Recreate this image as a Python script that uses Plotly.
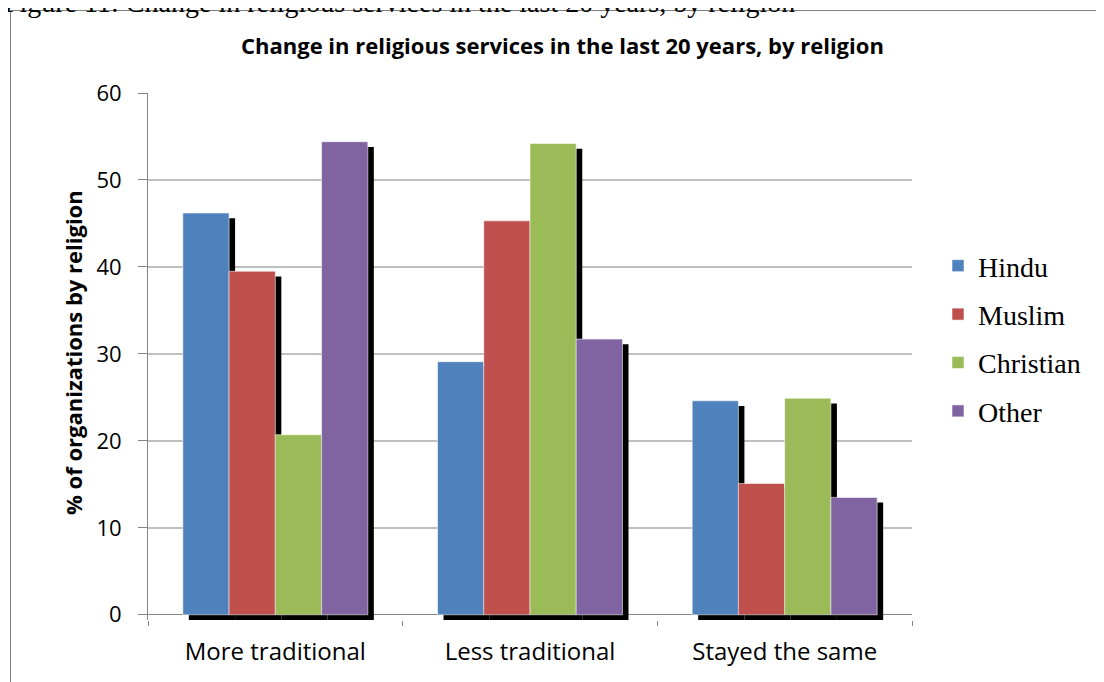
import plotly.graph_objects as go

categories = ["More traditional", "Less traditional", "Stayed the same"]
series_names = ["Hindu", "Muslim", "Christian", "Other"]
hindu = [46.2, 29.1, 24.6]
muslim = [39.5, 45.3, 15.1]
christian = [20.7, 54.2, 24.9]
other = [54.4, 31.7, 13.5]
y_ticks = [0, 10, 20, 30, 40, 50, 60]

values = [hindu, muslim, christian, other]
colors = ["#4F81BD", "#C0504D", "#9BBB59", "#8064A2"]

# page has an 8px body margin; the figure is laid out in page pixels
OFF = 8
W, H = 1104 - OFF, 682 - OFF
L, R, T, B = 148 - OFF, 192, 93 - OFF, 62
plot_w = W - L - R
plot_h = H - T - B
cat_px = plot_w / 3.0
BAR_W = 0.1816
SH_DX = 6 / cat_px
Y_MIN = -0.6
SH_DY = 0.6

def px_x(px):
    return (px - OFF - L) / plot_w

def px_y(py):
    return (H - B - (py - OFF)) / plot_h

fig = go.Figure()

# shadows first
for i, vals in enumerate(values):
    off = -2 * BAR_W + i * BAR_W
    fig.add_trace(go.Bar(
        x=categories, y=vals, base=[-SH_DY] * len(vals),
        offset=off + SH_DX, width=BAR_W,
        marker=dict(color="black", line=dict(width=0)),
        showlegend=False, hoverinfo="skip",
    ))

for i, (name, vals) in enumerate(zip(series_names, values)):
    off = -2 * BAR_W + i * BAR_W
    fig.add_trace(go.Bar(
        x=categories, y=vals, name=name,
        offset=off, width=BAR_W,
        marker=dict(color=colors[i], line=dict(color="rgba(255,255,255,0.55)", width=1)),
        legendgroup=name,
    ))

fig.update_layout(
    width=W, height=H,
    margin=dict(l=L, r=R, t=T, b=B),
    barmode="overlay",
    plot_bgcolor="white", paper_bgcolor="white",
    font=dict(family="Open Sans", color="black"),
    showlegend=True,
    legend=dict(
        x=px_x(938), y=px_y(241), xanchor="left", yanchor="top",
        font=dict(family="Liberation Serif", size=28, color="black"),
        traceorder="grouped", tracegroupgap=9,
        bgcolor="rgba(0,0,0,0)",
    ),
    xaxis=dict(
        type="category", range=[-0.5, 2.5],
        showline=False, showgrid=False,
        ticks="outside", tickson="boundaries", ticklen=5, tickcolor="#868686",
        ticklabelstandoff=15,
        tickfont=dict(family="Open Sans", size=24, color="black"),
    ),
    yaxis=dict(
        range=[Y_MIN, 60], tickvals=y_ticks,
        showgrid=True, gridcolor="#BFBFBF", gridwidth=1.5,
        zeroline=True, zerolinecolor="#868686", zerolinewidth=1,
        showline=True, linecolor="#868686", linewidth=1,
        ticks="outside", ticklen=9, tickcolor="#868686",
        ticklabelstandoff=12,
        tickfont=dict(family="Open Sans", size=22, color="black"),
    ),
    shapes=[
        dict(type="rect", xref="paper", yref="paper",
             x0=px_x(10.5), x1=px_x(1115), y0=px_y(695), y1=px_y(10.5),
             line=dict(color="#7F7F7F", width=1), fillcolor="rgba(0,0,0,0)", layer="below"),
    ],
    annotations=[
        dict(text="<b>Change in religious services in the last 20 years, by religion</b>",
             xref="paper", yref="paper", x=px_x(562), y=px_y(45),
             xanchor="center", yanchor="middle", showarrow=False,
             font=dict(family="Open Sans", size=22, color="black")),
        dict(text="<b>% of organizations by religion</b>",
             xref="paper", yref="paper", x=px_x(73), y=px_y(353),
             xanchor="center", yanchor="middle", textangle=-90, showarrow=False,
             font=dict(family="Open Sans", size=22, color="black")),
        dict(text="Figure 11: Change in religious services in the last 20 years, by religion",
             xref="paper", yref="paper", x=px_x(2), y=px_y(2),
             xanchor="left", yanchor="middle", showarrow=False,
             font=dict(family="Liberation Serif", size=28, color="black")),
    ],
)

fig.write_html("out.html")
